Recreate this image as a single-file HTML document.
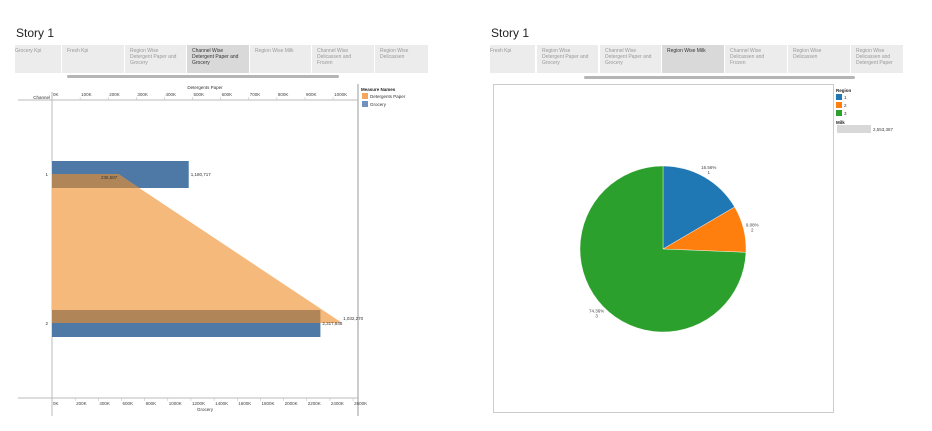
<!DOCTYPE html>
<html><head><meta charset="utf-8">
<style>
body{margin:0;width:932px;height:431px;background:#fff;font-family:"Liberation Sans",sans-serif;overflow:hidden;position:relative}
.abs{position:absolute}
.title{font-size:12px;color:#222}
.tab{position:absolute;top:45px;height:28px;background:#ececec;font-size:5px;color:#999;line-height:6px;padding:3px 0 0 5px;box-sizing:border-box}
.tab.sel{background:#d9d9d9;color:#333}
.scroll{position:absolute;height:3px;background:#b5b5b5;border-radius:2px;top:75px}
svg text{font-family:"Liberation Sans",sans-serif}
</style></head><body>
<div class="abs title" style="left:16px;top:26px">Story 1</div>
<div class="tab" style="left:15px;width:46px;padding-left:0">Grocery Kpi</div>
<div class="tab" style="left:62px;width:62px">Fresh Kpi</div>
<div class="tab" style="left:125px;width:61px">Region Wise<br>Detergent Paper and<br>Grocery</div>
<div class="tab sel" style="left:187px;width:62px">Channel Wise<br>Detergent Paper and<br>Grocery</div>
<div class="tab" style="left:250px;width:61px">Region Wise Milk</div>
<div class="tab" style="left:312px;width:62px">Channel Wise<br>Delicassen and<br>Frozen</div>
<div class="tab" style="left:375px;width:53px">Region Wise<br>Delicassen</div>
<div class="scroll" style="left:67px;width:272px"></div>

<div class="abs title" style="left:491px;top:26px">Story 1</div>
<div class="tab" style="left:490px;width:45px;padding-left:0">Fresh Kpi</div>
<div class="tab" style="left:537px;width:61px">Region Wise<br>Detergent Paper and<br>Grocery</div>
<div class="tab" style="left:600px;width:61px">Channel Wise<br>Detergent Paper and<br>Grocery</div>
<div class="tab sel" style="left:662px;width:62px">Region Wise Milk</div>
<div class="tab" style="left:725px;width:62px">Channel Wise<br>Delicassen and<br>Frozen</div>
<div class="tab" style="left:788px;width:62px">Region Wise<br>Delicassen</div>
<div class="tab" style="left:851px;width:52px">Region Wise<br>Delicassen and<br>Detergent Paper</div>
<div class="scroll" style="left:584px;width:271px;top:76px"></div>

<svg id="left" class="abs" style="left:0;top:0" width="480" height="431"></svg>
<svg id="right" class="abs" style="left:480px;top:0" width="452" height="431"></svg>

<script>
const channels=["1","2"];
const grocery=[1180717,2317845];
const detergents=[235587,1032270];
const groceryTicks=[0,200,400,600,800,1000,1200,1400,1600,1800,2000,2200,2400,2600];
const detTicks=[0,100,200,300,400,500,600,700,800,900,1000];
const regions=["1","2","3"];
const regionShare=[16.56,9.08,74.36];
const regionLabels=["16.56%","9.08%","74.36%"];
const regionColors=["#1f77b4","#ff7f0e","#2ca02c"];
const milkTotal="2,553,387";

const NS="http://www.w3.org/2000/svg";
function mk(svg,tag,attrs,txt){const e=document.createElementNS(NS,tag);for(const k in attrs)e.setAttribute(k,attrs[k]);if(txt!==undefined)e.textContent=txt;svg.appendChild(e);return e;}
const L=document.getElementById('left');
const x0=52;
const xG=v=>x0+v/1000*0.1158;
const xD=v=>x0+v/1000*0.2811;
const rowY=[174,323];

let e;
e=mk(L,'line',{x1:52,y1:92,x2:52,y2:416,stroke:'#bbb','stroke-width':1});

e=mk(L,'line',{x1:358,y1:84,x2:358,y2:416,stroke:'#bbb','stroke-width':1.5});

e=mk(L,'line',{x1:18,y1:100,x2:358,y2:100,stroke:'#bbb','stroke-width':1});

e=mk(L,'line',{x1:18,y1:398,x2:358,y2:398,stroke:'#bbb','stroke-width':1});

e=mk(L,'text',{x:50,y:99,'font-size':4.5,fill:'#333','text-anchor':'end'},'Channel');

e=mk(L,'text',{x:205,y:89,'font-size':4.5,fill:'#333','text-anchor':'middle'},'Detergents Paper');

e=mk(L,'text',{x:205,y:411,'font-size':4.5,fill:'#333','text-anchor':'middle'},'Grocery');

detTicks.forEach(t=>{const x=xD(t*1000);
 e=mk(L,'text',{x:x+1,y:96,'font-size':4.5,fill:'#444'},t+'K');
 
 e=mk(L,'line',{x1:x,y1:97,x2:x,y2:100,stroke:'#bbb','stroke-width':0.5});
 });
groceryTicks.forEach(t=>{const x=xG(t*1000);
 e=mk(L,'text',{x:x+1,y:405,'font-size':4.5,fill:'#444'},t+'K');
 
 e=mk(L,'line',{x1:x,y1:398,x2:x,y2:401,stroke:'#bbb','stroke-width':0.5});
 });
channels.forEach((c,i)=>{e=mk(L,'text',{x:48,y:rowY[i]+2,'font-size':4.5,fill:'#333','text-anchor':'end'},c);
 });

const defs=mk(L,'defs',{});
const cp=mk(defs,'clipPath',{id:'gclip'});
channels.forEach((c,i)=>{
 const y=rowY[i]-13;
 e=mk(L,'rect',{x:x0,y:y,width:xG(grocery[i])-x0,height:27,fill:'#4e79a7'});
 
 mk(cp,'rect',{x:x0,y:y,width:xG(grocery[i])-x0,height:27});
});
const pts=`${x0},${rowY[0]} ${xD(detergents[0])},${rowY[0]} ${xD(detergents[1])},${rowY[1]} ${x0},${rowY[1]}`;
e=mk(L,'polygon',{points:pts,fill:'#f5b97b'});

e=mk(L,'polygon',{points:pts,fill:'#b08659','clip-path':'url(#gclip)'});

const fmt=v=>v.toLocaleString('en-US');
channels.forEach((c,i)=>{
 e=mk(L,'text',{x:xG(grocery[i])+2,y:rowY[i]+2,'font-size':4.5,fill:'#333'},fmt(grocery[i]));
 
 e=mk(L,'text',{x:i==0?xD(detergents[i])-1:xD(detergents[i])+1,y:i==0?rowY[i]+5:rowY[i]-3,'font-size':4.5,fill:'#333','text-anchor':i==0?'end':'start'},fmt(detergents[i]));
 
});
e=mk(L,'text',{x:361,y:91,'font-size':4.5,fill:'#222','font-weight':'bold'},'Measure Names');

[['Detergents Paper','#f5a65b'],['Grocery','#6f93bd']].forEach((d,i)=>{
 e=mk(L,'rect',{x:362,y:93+i*8,width:6,height:6,fill:d[1]});
 
 e=mk(L,'text',{x:370,y:98+i*8,'font-size':4.5,fill:'#333'},d[0]);
 
});

const R=document.getElementById('right');
e=mk(R,'rect',{x:13.5,y:84.5,width:340,height:328,fill:'none',stroke:'#ccc','stroke-width':1});

const cx=183,cy=249,r=83;
const total=regionShare.reduce((a,b)=>a+b,0);
let a0=-Math.PI/2;
regionShare.forEach((v,i)=>{
 const a1=a0+v/total*2*Math.PI;
 const large=(a1-a0)>Math.PI?1:0;
 const d=`M${cx},${cy} L${cx+r*Math.cos(a0)},${cy+r*Math.sin(a0)} A${r},${r} 0 ${large} 1 ${cx+r*Math.cos(a1)},${cy+r*Math.sin(a1)} Z`;
 e=mk(R,'path',{d:d,fill:regionColors[i],stroke:'#fff','stroke-width':0.4});
 
 const am=(a0+a1)/2, lr=r+9;
 const lx=cx+lr*Math.cos(am), ly=cy+lr*Math.sin(am);
 e=mk(R,'text',{x:lx,y:ly,'font-size':4.5,fill:'#444','text-anchor':'middle'},regionLabels[i]);
 
 e=mk(R,'text',{x:lx,y:ly+5,'font-size':4.5,fill:'#444','text-anchor':'middle'},regions[i]);
 
 a0=a1;
});
e=mk(R,'text',{x:356,y:92,'font-size':4.5,fill:'#222','font-weight':'bold'},'Region');

regions.forEach((g,i)=>{
 e=mk(R,'rect',{x:356,y:94+i*8,width:6,height:6,fill:regionColors[i]});
 
 e=mk(R,'text',{x:364,y:99+i*8,'font-size':4.5,fill:'#333'},g);
 
});
e=mk(R,'text',{x:356,y:124,'font-size':4.5,fill:'#222','font-weight':'bold'},'Milk');

e=mk(R,'rect',{x:357,y:125,width:34,height:8,fill:'#d8d8d8'});

e=mk(R,'text',{x:393,y:131,'font-size':4.5,fill:'#444'},milkTotal);

</script>
</body></html>
